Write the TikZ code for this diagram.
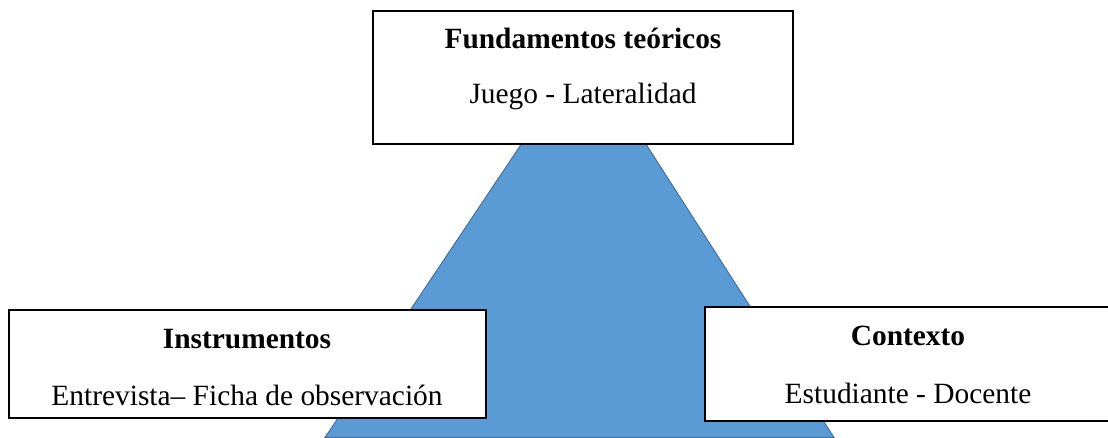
\documentclass[tikz,border=0pt]{standalone}
\usepackage{fontspec}
\setmainfont{Liberation Serif}
\definecolor{triblue}{HTML}{5B9BD5}
\definecolor{triedge}{HTML}{41719C}
\begin{document}
\begin{tikzpicture}[x=0.5pt,y=-0.5pt,
  box/.style={draw=black,line width=1pt,fill=white,inner sep=0pt,rectangle},
  title/.style={anchor=base,inner sep=0pt,font=\fontsize{14.7}{17}\selectfont\bfseries},
  sub/.style={anchor=base,inner sep=0pt,font=\fontsize{14.7}{17}\selectfont}]
\useasboundingbox (0,0) rectangle (1108,438);
% triangle
\coordinate (apex) at (585,49);
\coordinate (bl) at (325,437.5);
\coordinate (br) at (834,437.5);
\draw[fill=triblue,draw=triedge,line width=0.5pt] (apex) -- (bl) -- (br) -- cycle;
% boxes
\node[box,minimum width=210pt,minimum height=66.5pt] (topbox) at (583,77.5) {};
\node[box,minimum width=238.5pt,minimum height=54pt] (leftbox) at (247.5,364) {};
\node[box,minimum width=203pt,minimum height=57pt] (rightbox) at (908,364) {};
% texts
\node[title] (t1) at (583,49) {Fundamentos teóricos};
\node[sub] (s1) at (583,104) {Juego - Lateralidad};
\node[title] (t2) at (247,348) {Instrumentos};
\node[sub] (s2) at (247,405) {Entrevista– Ficha de observación};
\node[title] (t3) at (908,345) {Contexto};
\node[sub] (s3) at (908,403) {Estudiante - Docente};
\end{tikzpicture}
\end{document}
